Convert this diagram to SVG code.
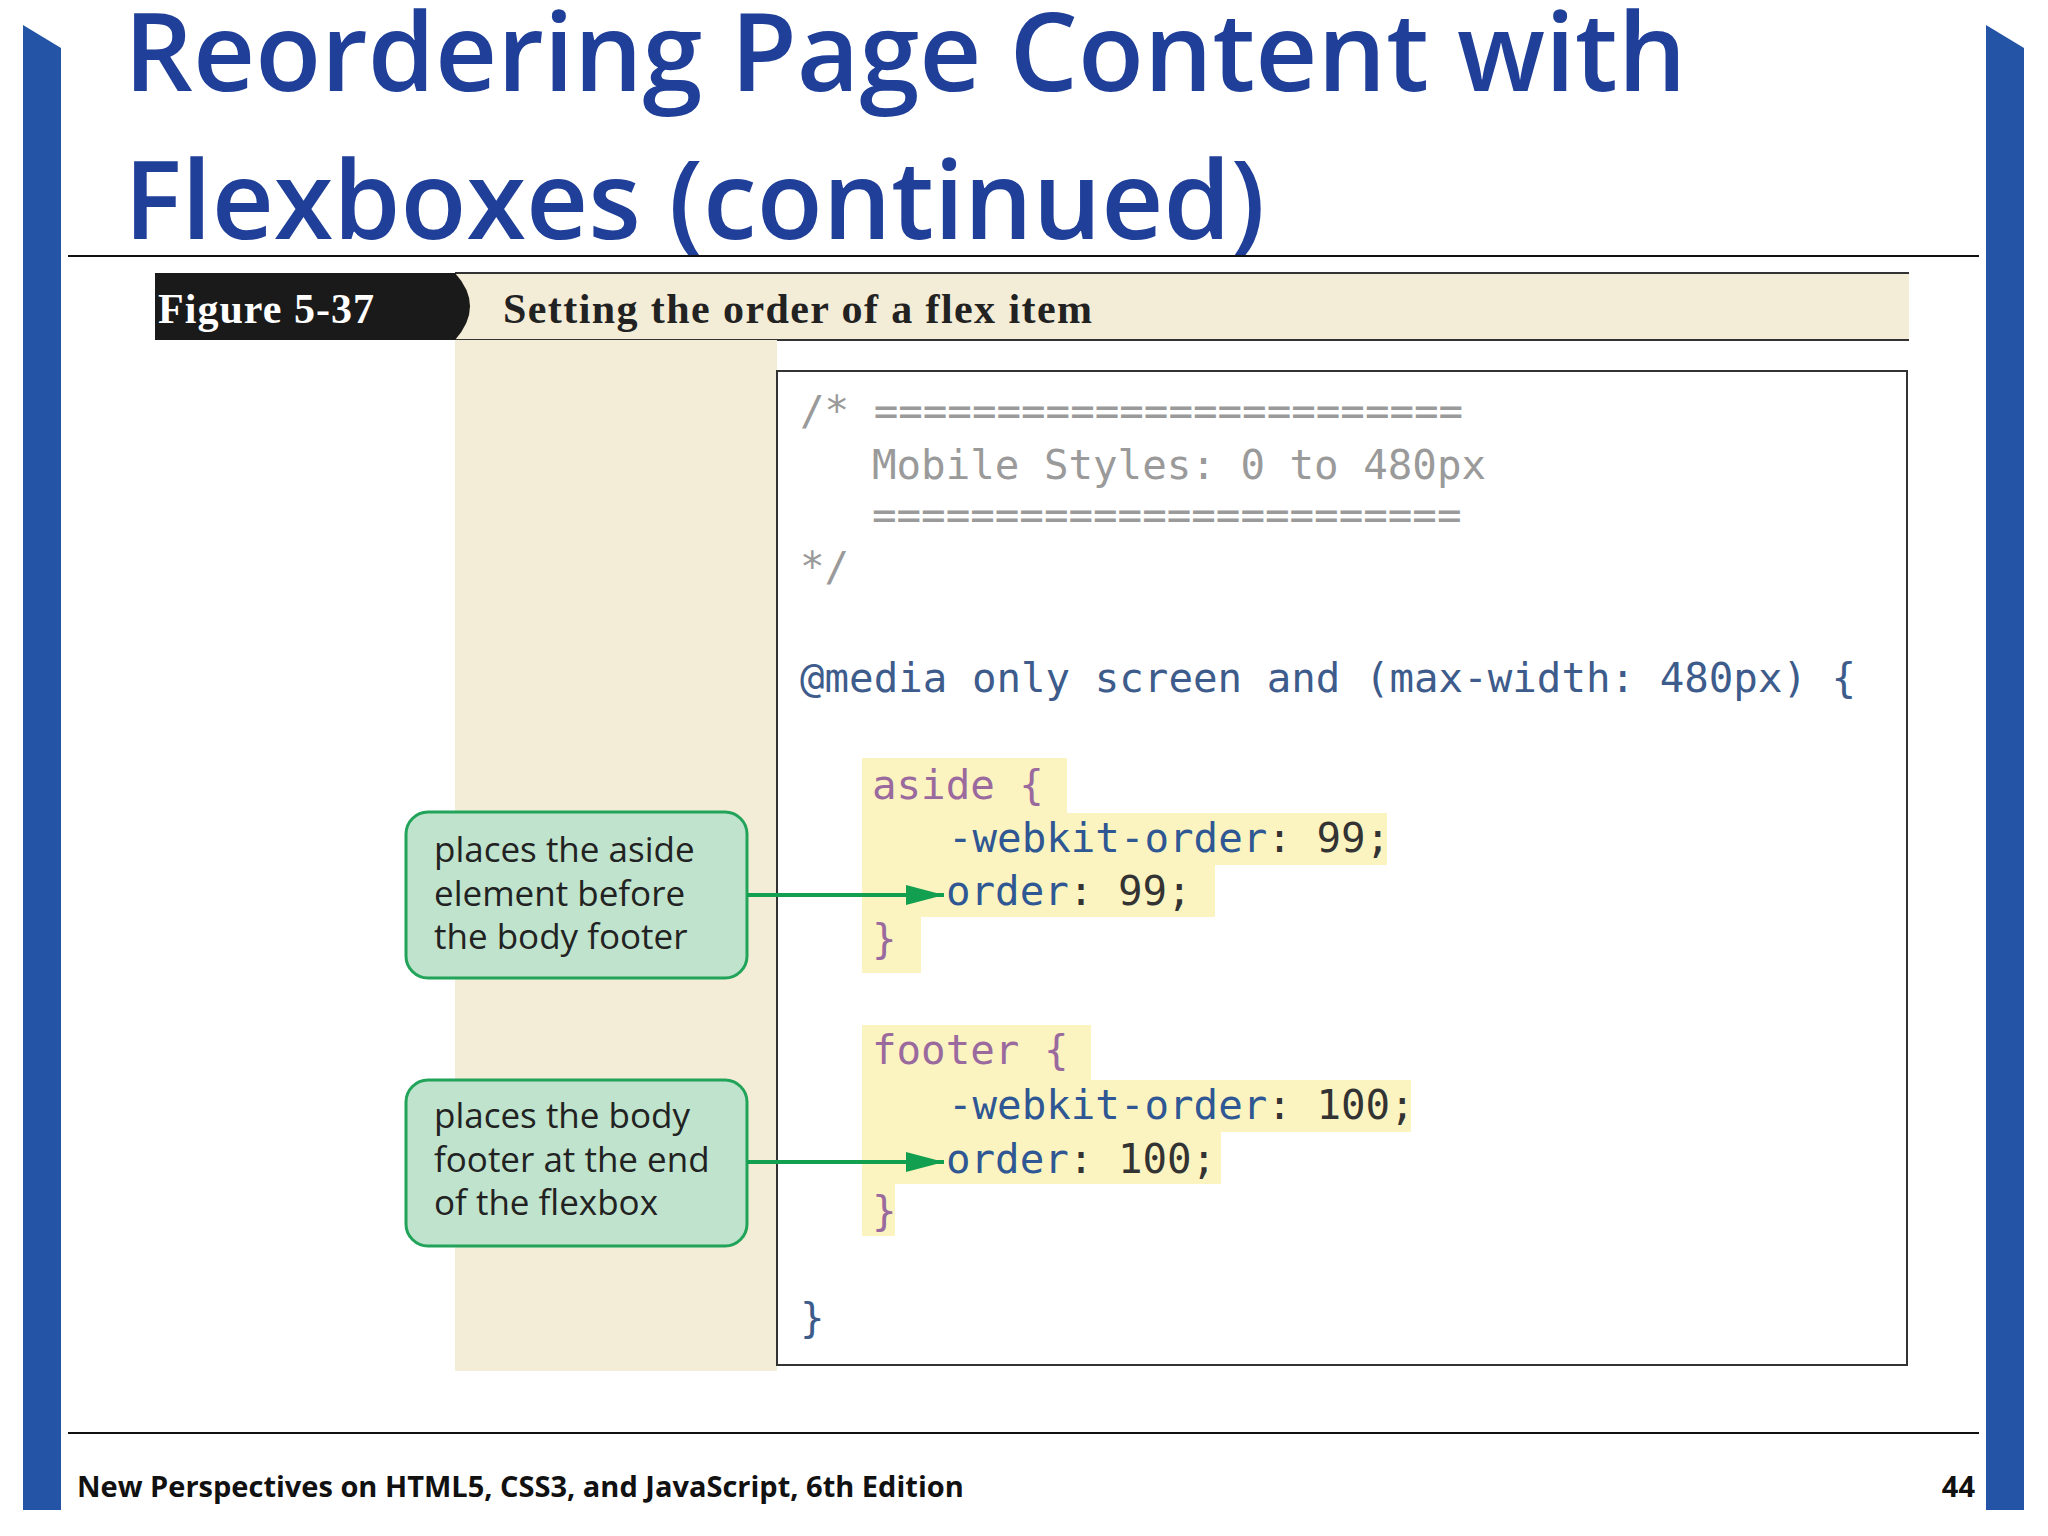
<svg xmlns="http://www.w3.org/2000/svg" width="2048" height="1536" viewBox="0 0 2048 1536">
<defs>
<style>
.code{font-family:"DejaVu Sans Mono",monospace;font-size:40.8px}
.cm{fill:#9a9a9a}.kw{fill:#3d5c8c}.sel{fill:#9a6a9e}.pr{fill:#2e5793}.v{fill:#333}
.hl{fill:#fbf4c0}
.call{fill:#bfe3cc;stroke:#21a45a;stroke-width:3}
.ct{font-family:"Open Sans","DejaVu Sans",sans-serif;font-size:35px;fill:#222}
.ar{stroke:#12a050;stroke-width:4;fill:none}
</style>
<marker id="ah" viewBox="0 0 10 10" refX="10" refY="5" markerWidth="9.5" markerHeight="5" orient="auto" markerUnits="strokeWidth" preserveAspectRatio="none"><path d="M0,0L10,5L0,10z" fill="#12a050"/></marker>
</defs>
<rect width="2048" height="1536" fill="#fff"/>
<polygon points="23,25 61,48 61,1510 23,1510" fill="#2354a5"/>
<polygon points="1986,25 2024,48 2024,1510 1986,1510" fill="#2354a5"/>
<text x="124" y="91" font-family="'Open Sans',sans-serif" font-weight="600" font-size="108" fill="#1f3f99">Reordering Page Content with</text>
<text x="124" y="239" font-family="'Open Sans',sans-serif" font-weight="600" font-size="108" fill="#1f3f99">Flexboxes (continued)</text>
<line x1="68" y1="256" x2="1979" y2="256" stroke="#111" stroke-width="2"/>
<g id="figure-header">
<rect x="455" y="273" width="1454" height="67" fill="#f3ecd6"/>
<line x1="455" y1="273" x2="1909" y2="273" stroke="#333" stroke-width="2"/>
<line x1="455" y1="340" x2="1909" y2="340" stroke="#333" stroke-width="2"/>
<path d="M155,273 H455 Q485,306 455,340 H155 Z" fill="#1a1a1a"/>
<text x="158" y="323" font-family="'Liberation Serif',serif" font-weight="bold" font-size="42" fill="#fff" textLength="216">Figure 5-37</text>
<text x="503" y="323" font-family="'Liberation Serif',serif" font-weight="bold" font-size="42" fill="#222" textLength="589">Setting the order of a flex item</text>
</g>
<rect x="455" y="340" width="322" height="1031" fill="#f3ecd6"/>
<g id="code-box">
<rect x="777" y="371" width="1130" height="994" fill="#fff" stroke="#333" stroke-width="2"/>
<rect class="hl" x="862" y="758" width="205" height="55"/>
<rect class="hl" x="862" y="813" width="525" height="52"/>
<rect class="hl" x="862" y="865" width="353" height="52"/>
<rect class="hl" x="862" y="917" width="59" height="56"/>
<rect class="hl" x="862" y="1025" width="229" height="55"/>
<rect class="hl" x="862" y="1080" width="549" height="52"/>
<rect class="hl" x="862" y="1132" width="359" height="52"/>
<rect class="hl" x="862" y="1184" width="33" height="52"/>
<text class="code cm" x="800" y="425">/*  ========================</text>
<text class="code cm" x="872" y="479">Mobile Styles: 0 to 480px</text>
<text class="code cm" x="872" y="529">========================</text>
<text class="code cm" x="800" y="581">*/</text>
<text class="code kw" x="800" y="692">@media only screen and (max-width: 480px) {</text>
<text class="code sel" x="872" y="799">aside {</text>
<text class="code" x="948" y="852"><tspan class="pr">-webkit-order</tspan><tspan class="v">: 99;</tspan></text>
<text class="code" x="946" y="905"><tspan class="pr">order</tspan><tspan class="v">: 99;</tspan></text>
<text class="code sel" x="872" y="953">}</text>
<text class="code sel" x="872" y="1064">footer {</text>
<text class="code" x="948" y="1119"><tspan class="pr">-webkit-order</tspan><tspan class="v">: 100;</tspan></text>
<text class="code" x="946" y="1173"><tspan class="pr">order</tspan><tspan class="v">: 100;</tspan></text>
<text class="code sel" x="872" y="1225">}</text>
<text class="code kw" x="800" y="1332">}</text>
</g>
<g id="callout1">
<rect class="call" x="406" y="812" width="341" height="166" rx="22"/>
<text class="ct" x="434" y="862">places the aside</text>
<text class="ct" x="434" y="906">element before</text>
<text class="ct" x="434" y="949">the body footer</text>
</g>
<g id="callout2">
<rect class="call" x="406" y="1080" width="341" height="166" rx="22"/>
<text class="ct" x="434" y="1128">places the body</text>
<text class="ct" x="434" y="1172">footer at the end</text>
<text class="ct" x="434" y="1215">of the flexbox</text>
</g>
<g id="connectors">
<line class="ar" x1="747" y1="895" x2="944" y2="895" marker-end="url(#ah)"/>
<line class="ar" x1="747" y1="1162" x2="944" y2="1162" marker-end="url(#ah)"/>
</g>
<line x1="68" y1="1433" x2="1979" y2="1433" stroke="#111" stroke-width="2"/>
<text x="77" y="1497" font-family="'Open Sans',sans-serif" font-weight="bold" font-size="29" fill="#111">New Perspectives on HTML5, CSS3, and JavaScript, 6th Edition</text>
<text x="1975" y="1497" text-anchor="end" font-family="'Open Sans',sans-serif" font-weight="bold" font-size="29" fill="#111">44</text>
</svg>
